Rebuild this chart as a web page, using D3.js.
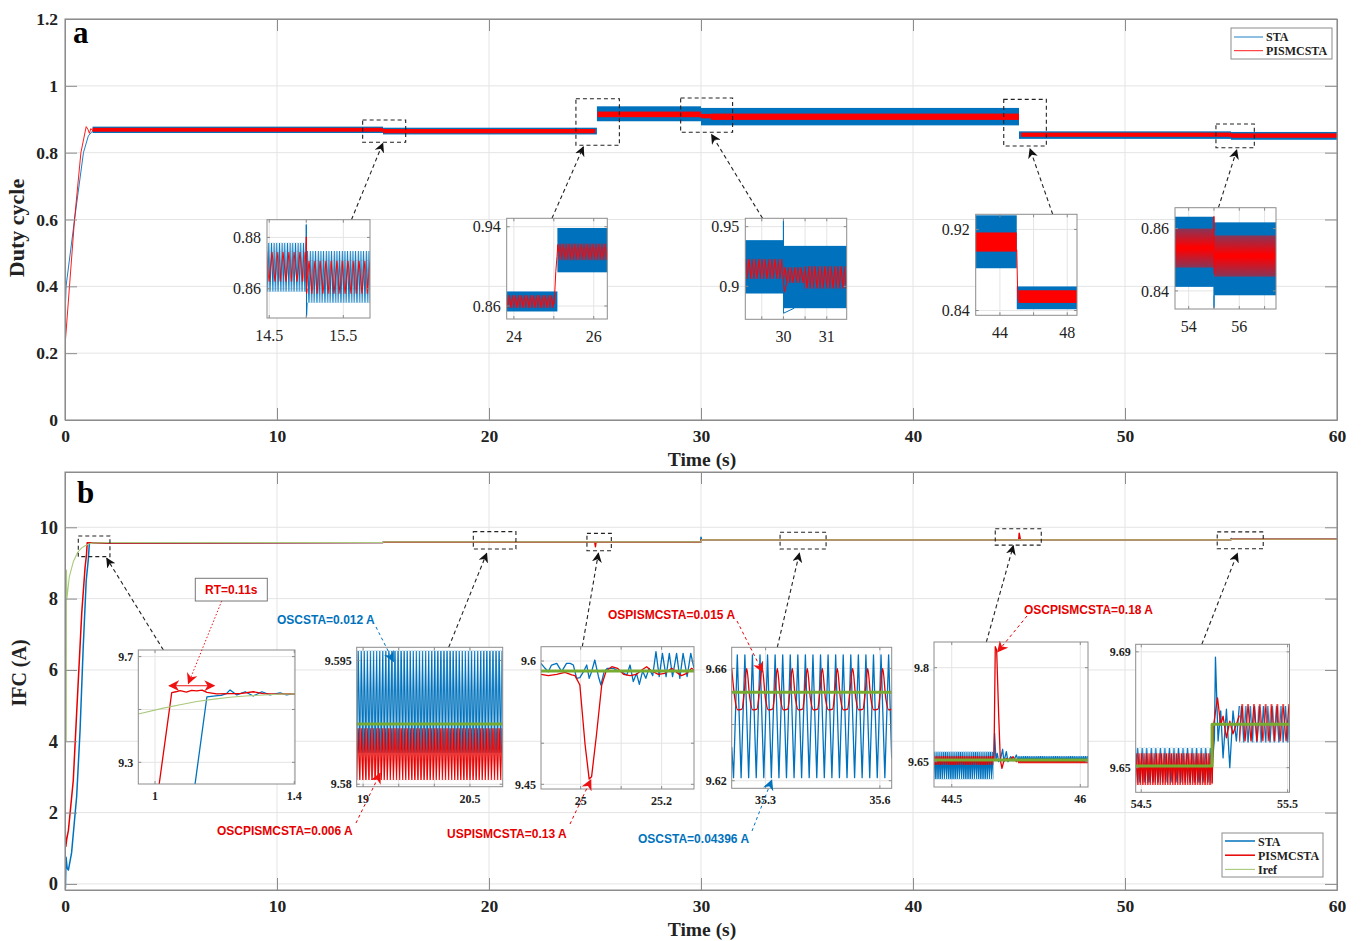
<!DOCTYPE html>
<html>
<head>
<meta charset="utf-8">
<script src="https://cdn.jsdelivr.net/npm/d3@7"></script>
<style>
  body { margin: 0; background: #fff; }
  svg { display: block; }
</style>
</head>
<body>
<div class="chart"></div>
<script>
// Duty cycle (a) and fuel cell current (b): STA vs PISMCSTA

// ---------- data ----------
var timeTicks = [0, 10, 20, 30, 40, 50, 60]
var dutyTicks = [0, 0.2, 0.4, 0.6, 0.8, 1, 1.2]
var ifcTicks = [0, 2, 4, 6, 8, 10]
var legendA = ['STA', 'PISMCSTA']
var legendB = ['STA', 'PISMCSTA', 'Iref']

// panel a, start-up [t, d]
var dutyStaRise = [[0, 0.3], [0.05, 0.4], [0.45, 0.6], [0.87, 0.8], [1.1, 0.85], [1.26, 0.862], [1.35, 0.868]]
var dutyPisRise = [[0, 0], [0.01, 0.23], [0.45, 0.6], [0.75, 0.8], [1.0, 0.878], [1.08, 0.87], [1.15, 0.858], [1.22, 0.872], [1.3, 0.866], [1.35, 0.868]]

// panel a, ripple envelopes [t0, t1, low, high, ripple period]
var dutyStaBand = [
  [1.3, 15.0, 0.8588, 0.8779, 0.036],
  [15.0, 25.09, 0.8545, 0.8747, 0.036],
  [25.09, 30.0, 0.894, 0.9387, 0.036],
  [30.0, 45.0, 0.8817, 0.9339, 0.036],
  [45.0, 55.0, 0.8413, 0.8638, 0.036],
  [55.0, 60, 0.8386, 0.862, 0.036]
]
var dutyPisBand = [
  [1.3, 15.0, 0.8627, 0.8744, 0.075],
  [15.0, 25.01, 0.858, 0.871, 0.075],
  [25.12, 30.0, 0.9062, 0.923, 0.075],
  [30.0, 30.47, 0.9028, 0.9161, 0.075],
  [30.47, 45.0, 0.8981, 0.917, 0.075],
  [45.1, 55.0, 0.8475, 0.86, 0.075],
  [55.0, 60, 0.8446, 0.8578, 0.075]
]
// panel a, transients at the load steps
var dutyStaSpikes = [
  [[14.998, 0.8588], [15.0, 0.885], [15.004, 0.8493], [15.012, 0.8545]],
  [[29.998, 0.894], [30.0, 0.955], [30.003, 0.8775], [30.06, 0.8785], [30.25, 0.8817]],
  [[54.998, 0.8414], [55.0, 0.8346], [55.006, 0.8386]]
]
var dutyPisSpikes = [
  [[14.998, 0.8627], [15.0, 0.8802], [15.004, 0.8582], [15.012, 0.86]],
  [[25.01, 0.862], [25.05, 0.895], [25.08, 0.91], [25.1, 0.922], [25.12, 0.915]],
  [[29.998, 0.906], [30.02, 0.895], [30.08, 0.903]],
  [[45.0, 0.9], [45.06, 0.852], [45.1, 0.85]],
  [[54.998, 0.8593], [55.0, 0.8639], [55.004, 0.8455]]
]

// panel b, whole run [t, A]
var ifcSta = [[0, 0], [0.02, -0.12], [0.05, 0.75], [0.1, 0.45], [0.16, 0.39], [0.31, 0.87], [0.55, 2.45], [0.71, 4.3], [0.86, 6.65], [1.0, 8.5], [1.1, 9.1], [1.149, 9.548], [1.3, 9.56], [15, 9.575], [15.01, 9.59], [29.99, 9.59], [30, 9.72], [30.03, 9.648], [44.99, 9.65], [45, 9.69], [45.02, 9.65], [54.99, 9.65], [55.01, 9.688], [55.03, 9.665], [60, 9.665]]
var ifcPis = [[0, 0], [0.01, 1.45], [0.04, 1.05], [0.08, 1.25], [0.16, 1.5], [0.39, 2.9], [0.55, 4.8], [0.79, 7.6], [0.95, 8.9], [1.012, 9.218], [1.048, 9.564], [1.3, 9.56], [15, 9.575], [15.01, 9.59], [24.99, 9.585], [25.02, 9.456], [25.05, 9.59], [29.99, 9.59], [30, 9.648], [44.99, 9.65], [45.01, 9.83], [45.07, 9.64], [45.1, 9.65], [54.99, 9.65], [55.02, 9.674], [55.05, 9.665], [60, 9.665]]
var ifcRef = [[0.06, 4.0], [0.07, 8.8], [0.09, 8.0], [0.2, 8.6], [0.4, 9.05], [0.6, 9.3], [0.8, 9.43], [0.95, 9.483], [1.12, 9.53], [1.3, 9.555], [2, 9.575], [15, 9.575], [15.01, 9.59], [30, 9.59], [30.01, 9.648], [55, 9.648], [55.01, 9.665], [60, 9.665]]

// panel b, ripple envelopes seen in the zooms [t0, t1, low, high, ripple period]
var ifcStaRipple = [
  [18.91, 20.96, 9.5838, 9.5962, 0.043],
  [44.29, 44.986, 9.6219, 9.666, 0.025],
  [45.273, 46.09, 9.650, 9.6591, 0.025],
  [54.46, 54.99, 9.6448, 9.6569, 0.031],
  [55.17, 55.52, 9.6586, 9.6713, 0.03]
]
var ifcPisRipple = [
  [18.91, 20.96, 9.5805, 9.5868, 0.043],
  [44.29, 44.986, 9.6447, 9.6591, 0.025],
  [45.273, 46.09, 9.6474, 9.6527, 0.022],
  [54.46, 54.984, 9.644, 9.655, 0.017],
  [55.17, 55.52, 9.659, 9.672, 0.04]
]
// panel b, detail traces
var ifcStaZoom1 = [[1.10, 8.9], [1.115, 9.218], [1.149, 9.548], [1.18, 9.552], [1.19, 9.553], [1.205, 9.56], [1.2155, 9.574], [1.235, 9.555], [1.259, 9.567], [1.282, 9.551], [1.307, 9.567], [1.33, 9.555], [1.359, 9.5625], [1.378, 9.555], [1.397, 9.56], [1.402, 9.559]]
var ifcPisZoom1 = [[0.99, 8.9], [1.012, 9.218], [1.048, 9.564], [1.06, 9.567], [1.072, 9.571], [1.09, 9.566], [1.105, 9.572], [1.12, 9.57], [1.135, 9.573], [1.149, 9.565], [1.177, 9.559], [1.2155, 9.56], [1.244, 9.56], [1.282, 9.567], [1.311, 9.56], [1.35, 9.558], [1.388, 9.56], [1.402, 9.558]]
var ifcRefZoom1 = [[0.952, 9.483], [1.024, 9.505], [1.072, 9.518], [1.12, 9.53], [1.17, 9.539], [1.2155, 9.546], [1.26, 9.551], [1.311, 9.555], [1.36, 9.558], [1.402, 9.559]]
var ifcRefZoom2 = [[18.91, 9.5873], [20.96, 9.5873]]
var ifcStaZoom3 = [[24.902, 9.5972], [24.912, 9.5911], [24.92, 9.587], [24.928, 9.5951], [24.941, 9.5972], [24.953, 9.587], [24.965, 9.5972], [24.974, 9.5972], [24.982, 9.5951], [24.99, 9.5789], [24.998, 9.5797], [25.007, 9.587], [25.015, 9.5951], [25.021, 9.5789], [25.027, 9.587], [25.035, 9.6012], [25.044, 9.5809], [25.05, 9.5708], [25.058, 9.587], [25.066, 9.5911], [25.081, 9.5911], [25.093, 9.5878], [25.101, 9.587], [25.114, 9.583], [25.122, 9.5951], [25.13, 9.5749], [25.138, 9.585], [25.145, 9.5716], [25.153, 9.5878], [25.161, 9.5789], [25.169, 9.5911], [25.178, 9.5822], [25.186, 9.6114], [25.194, 9.5809], [25.202, 9.6093], [25.211, 9.5809], [25.219, 9.6093], [25.227, 9.5809], [25.237, 9.6093], [25.245, 9.5789], [25.253, 9.6093], [25.263, 9.5809], [25.272, 9.6093], [25.28, 9.5911]]
var ifcPisZoom3 = [[24.902, 9.5838], [24.92, 9.5822], [24.941, 9.5838], [24.961, 9.5862], [24.978, 9.583], [24.986, 9.5822], [24.998, 9.5708], [25.011, 9.4978], [25.021, 9.4564], [25.027, 9.4593], [25.039, 9.51], [25.052, 9.5708], [25.063, 9.5878], [25.077, 9.5931], [25.091, 9.5911], [25.106, 9.5838], [25.122, 9.5822], [25.138, 9.5838], [25.151, 9.589], [25.163, 9.5931], [25.175, 9.5878], [25.192, 9.5838], [25.208, 9.585], [25.225, 9.5911], [25.237, 9.5862], [25.249, 9.5822], [25.262, 9.585], [25.274, 9.5911], [25.28, 9.589]]
var ifcRefZoom3 = [[24.902, 9.5878], [25.28, 9.5878]]
var ifcStaZoom4 = [[35.211, 9.632], [35.2158, 9.6211], [35.2257, 9.6648], [35.2357, 9.6211], [35.2456, 9.6648], [35.2555, 9.6211], [35.2654, 9.6648], [35.2754, 9.6211], [35.2853, 9.6648], [35.2952, 9.6211], [35.3051, 9.6648], [35.3151, 9.6211], [35.325, 9.6648], [35.335, 9.6211], [35.3449, 9.6648], [35.3548, 9.6211], [35.3647, 9.6648], [35.3747, 9.6211], [35.3846, 9.6648], [35.3945, 9.6211], [35.4044, 9.6648], [35.4144, 9.6211], [35.4243, 9.6648], [35.4343, 9.6211], [35.4442, 9.6648], [35.4541, 9.6211], [35.464, 9.6648], [35.474, 9.6211], [35.4839, 9.6648], [35.4938, 9.6211], [35.5037, 9.6648], [35.5137, 9.6211], [35.5236, 9.6648], [35.5336, 9.6211], [35.5435, 9.6648], [35.5534, 9.6211], [35.5633, 9.6648], [35.5733, 9.6211], [35.5832, 9.6648], [35.5931, 9.6211], [35.603, 9.6648], [35.613, 9.6211], [35.6229, 9.6648], [35.631, 9.628]]
var ifcPisZoom4 = [
  [35.211, 9.66], [35.219, 9.6495], [35.227, 9.6452], [35.238, 9.6455], [35.245, 9.653],
  [35.2504, 9.66], [35.2584, 9.6495], [35.2664, 9.6452], [35.2774, 9.6455], [35.2844, 9.653],
  [35.2913, 9.66], [35.2993, 9.6495], [35.3073, 9.6452], [35.3183, 9.6455], [35.3253, 9.653],
  [35.3307, 9.66], [35.3387, 9.6495], [35.3467, 9.6452], [35.3577, 9.6455], [35.3647, 9.653],
  [35.37, 9.66], [35.378, 9.6495], [35.386, 9.6452], [35.397, 9.6455], [35.404, 9.653],
  [35.4094, 9.66], [35.4174, 9.6495], [35.4254, 9.6452], [35.4364, 9.6455], [35.4434, 9.653],
  [35.4488, 9.66], [35.4568, 9.6495], [35.4648, 9.6452], [35.4758, 9.6455], [35.4828, 9.653],
  [35.4882, 9.66], [35.4962, 9.6495], [35.5042, 9.6452], [35.5152, 9.6455], [35.5222, 9.653],
  [35.5286, 9.66], [35.5366, 9.6495], [35.5446, 9.6452], [35.5556, 9.6455], [35.5626, 9.653],
  [35.568, 9.66], [35.576, 9.6495], [35.584, 9.6452], [35.595, 9.6455], [35.602, 9.653],
  [35.6073, 9.66], [35.6153, 9.6495], [35.6233, 9.6452], [35.631, 9.6455]]
var ifcRefZoom4 = [[35.211, 9.6515], [35.631, 9.6515]]
var ifcStaZoom5 = [[44.986, 9.6527], [44.989, 9.6527], [45.0, 9.6953], [45.016, 9.6527], [45.031, 9.6634], [45.047, 9.65], [45.071, 9.6554], [45.094, 9.6698], [45.109, 9.65], [45.137, 9.666], [45.156, 9.65], [45.188, 9.658], [45.223, 9.6516], [45.254, 9.6607], [45.273, 9.6516]]
var ifcPisZoom5 = [[44.986, 9.6527], [44.993, 9.6527], [45.008, 9.8335], [45.024, 9.8282], [45.047, 9.7272], [45.067, 9.6527], [45.086, 9.6395], [45.106, 9.65], [45.137, 9.6554], [45.176, 9.6527], [45.215, 9.658], [45.254, 9.65], [45.273, 9.6527]]
var ifcRefZoom5 = [[44.29, 9.6527], [46.09, 9.6527]]
var ifcStaZoom6 = [[54.984, 9.6506], [55.0, 9.66], [55.007, 9.6882], [55.025, 9.6592], [55.043, 9.6696], [55.059, 9.6534], [55.082, 9.6702], [55.105, 9.65], [55.127, 9.6696], [55.15, 9.6592], [55.17, 9.6713]]
var ifcPisZoom6 = [[54.984, 9.6445], [54.995, 9.665], [55.021, 9.6741], [55.043, 9.6647], [55.059, 9.6678], [55.082, 9.6603], [55.105, 9.6661], [55.127, 9.6617], [55.15, 9.665], [55.17, 9.668]]
var ifcRefZoom6 = [[54.46, 9.6506], [54.984, 9.6506], [54.984, 9.665], [55.52, 9.665]]

// zoom windows in the main axes [t0, t1, low, high]
var dutyZoomBoxes = [[14.04, 16.07, 0.831, 0.8977], [24.1, 26.15, 0.822, 0.9615], [29.04, 31.49, 0.861, 0.9635], [44.28, 46.29, 0.8199, 0.9596], [54.29, 56.1, 0.8148, 0.8857]]
var ifcZoomBoxes = [[0.627, 2.12, 9.176, 9.756], [19.26, 21.27, 9.39, 9.877], [24.62, 25.77, 9.344, 9.83], [33.73, 35.9, 9.39, 9.86], [43.88, 46.05, 9.5, 9.96], [54.35, 56.52, 9.4, 9.87]]

// inset axes
var dutyInsetX = [[14.47, 15.86], [23.82, 26.34], [29.12, 31.46], [42.56, 48.58], [53.46, 57.45]]
var dutyInsetY = [[0.8486, 0.8869], [0.8469, 0.9485], [0.8724, 0.957], [0.8353, 0.9349], [0.8342, 0.8667]]
var dutyInsetXTicks = [[14.5, 15.5], [24, 26], [30, 31], [44, 48], [54, 56]]
var dutyInsetXGrid = [[14.5, 15, 15.5], [24, 25, 26], [29.5, 30, 30.5, 31], [44, 46, 48], [54, 55, 56, 57]]
var dutyInsetYTicks = [[0.86, 0.88], [0.86, 0.94], [0.9, 0.95], [0.84, 0.92], [0.84, 0.86]]
var ifcInsetX = [[0.952, 1.402], [18.91, 20.96], [24.902, 25.28], [35.211, 35.631], [44.293, 46.09], [54.462, 55.513]]
var ifcInsetY = [[9.218, 9.725], [9.5797, 9.5966], [9.4443, 9.6174], [9.6173, 9.6675], [9.6096, 9.841], [9.6415, 9.6926]]
var ifcInsetXTicks = [[1, 1.4], [19, 20.5], [25, 25.2], [35.3, 35.6], [44.5, 46], [54.5, 55.5]]
var ifcInsetXGrid = [[1, 1.4], [19, 19.5, 20, 20.5], [25, 25.1, 25.2], [35.3, 35.6], [44.5, 46], [54.5, 55.5]]
var ifcInsetYTicks = [[9.3, 9.7], [9.58, 9.595], [9.45, 9.6], [9.62, 9.66], [9.65, 9.8], [9.65, 9.69]]
var ifcInsetYGrid = [[9.3, 9.5, 9.7], [9.58, 9.595], [9.45, 9.5, 9.6], [9.62, 9.64, 9.66], [9.65, 9.8], [9.65, 9.69]]

// ---------- layout ----------
var dutyInsetBox = [[267, 219.7, 103, 98.3], [506.7, 218.3, 100.6, 100.7], [745.3, 218.3, 101.4, 101], [975.7, 214.3, 101.3, 101], [1175, 207.7, 101, 101.3]]
var ifcInsetBox = [[138.3, 650, 156.7, 134], [356.7, 647.3, 146, 139.4], [541, 646.7, 153, 142.3], [731.7, 647.3, 160, 141], [934, 642, 154, 145], [1135.7, 644.3, 153.8, 148]]
var dutyArrowFrom = [0.82, 0.45, 0.17, 0.76, 0.43]
var dutyArrowTo = [[14.99, 0.828], [24.45, 0.817], [30.5, 0.854], [45.52, 0.811], [55.27, 0.808]]
var ifcArrowFrom = [0.16, 0.63, 0.27, 0.285, 0.34, 0.43]
var ifcArrowTo = [[1.97, 9.13], [19.89, 9.27], [25.16, 9.27], [34.64, 9.27], [44.73, 9.48], [55.3, 9.27]]

var SERIF = '"Liberation Serif", "Times New Roman", serif'
var SANS = '"Liberation Sans", Arial, sans-serif'
var STA_C = '#0072BD', PIS_A = '#FF0000', PIS_B = '#E60000', REF_C = '#A9C97C', REF_IN = '#77AC30'
var FRAME = '#8c8c8c', GRID = '#e4e4e4'
var L = 65, R = 1337

var svg = d3.select('.chart').append('svg').attr('width', 1363).attr('height', 941)
  .style('font-family', SERIF)
var defs = svg.append('defs')

var xMain = d3.scaleLinear().domain([0, 60]).range([L, R])
var yDuty = d3.scaleLinear().domain([0, 1.2]).range([420, 19])
var yIfc = d3.scaleLinear().domain([-0.17, 11.55]).range([890, 472])

function marker(id, color, size) {
  defs.append('marker').attr('id', id).attr('viewBox', '0 0 10 10')
    .attr('refX', 9).attr('refY', 5).attr('markerWidth', size).attr('markerHeight', size)
    .attr('markerUnits', 'userSpaceOnUse').attr('orient', 'auto-start-reverse')
    .append('path').attr('d', 'M0,0 L10,5 L0,10 L3,5 Z').attr('fill', color)
}
marker('arK', '#111', 10)
marker('arR', '#ee1111', 11)
marker('arB', STA_C, 11)

var patN = 0
function bandFill(color, p, h, x0, y0, sw) {
  if (p < 1.8) return color
  var id = 'zz' + (patN++)
  var pat = defs.append('pattern').attr('id', id).attr('patternUnits', 'userSpaceOnUse')
    .attr('x', x0).attr('y', y0).attr('width', p).attr('height', h)
  pat.append('path').attr('d', 'M0,' + h + 'L' + (p / 2) + ',0L' + p + ',' + h)
    .attr('fill', 'none').attr('stroke', color).attr('stroke-width', sw)
  return 'url(#' + id + ')'
}

function drawBands(g, xs, ys, bands, color, sw) {
  bands.forEach(function (b) {
    var x0 = xs(b[0]), x1 = xs(b[1]), y0 = ys(b[3]), y1 = ys(b[2])
    var p = xs(b[0] + b[4]) - x0
    g.append('rect').attr('x', x0).attr('y', y0).attr('width', x1 - x0).attr('height', y1 - y0)
      .attr('fill', bandFill(color, p, y1 - y0, x0, y0, sw))
  })
}

function drawLine(g, xs, ys, pts, color, w, curve) {
  var line = d3.line().x(function (d) { return xs(d[0]) }).y(function (d) { return ys(d[1]) })
  if (curve) line.curve(curve)
  g.append('path').datum(pts).attr('d', line).attr('fill', 'none')
    .attr('stroke', color).attr('stroke-width', w).attr('stroke-linejoin', 'round')
}

// main axes frame: grid first, ticks and labels later
function mainGrid(y, yTicks, top, bottom) {
  var g = svg.append('g')
  g.selectAll(null).data(timeTicks).join('line')
    .attr('x1', function (d) { return xMain(d) }).attr('x2', function (d) { return xMain(d) })
    .attr('y1', top).attr('y2', bottom).attr('stroke', GRID)
  g.selectAll(null).data(yTicks).join('line')
    .attr('x1', L).attr('x2', R)
    .attr('y1', function (d) { return y(d) }).attr('y2', function (d) { return y(d) }).attr('stroke', GRID)
}

var plain = function (d) { return String(d) }

function mainAxes(y, yTicks, top, bottom, yFont) {
  var g = svg.append('g')
  var ax = [
    [d3.axisBottom(xMain).tickValues(timeTicks).tickFormat(plain).tickPadding(10), 0, bottom, true, 17.5],
    [d3.axisTop(xMain).tickValues(timeTicks).tickFormat(''), 0, top, false],
    [d3.axisLeft(y).tickValues(yTicks).tickFormat(plain).tickPadding(7), L, 0, true, yFont],
    [d3.axisRight(y).tickValues(yTicks).tickFormat(''), R, 0, false]
  ]
  ax.forEach(function (a) {
    var s = g.append('g').attr('transform', 'translate(' + a[1] + ',' + a[2] + ')')
      .call(a[0].tickSize(-12).tickSizeOuter(0))
    s.select('.domain').attr('stroke', FRAME)
    s.selectAll('.tick line').attr('stroke', FRAME)
    if (a[3]) s.selectAll('.tick text').attr('fill', '#222').style('font-family', SERIF)
      .style('font-weight', 'bold').style('font-size', a[4] + 'px')
  })
  g.append('rect').attr('x', L).attr('y', top).attr('width', R - L).attr('height', bottom - top)
    .attr('fill', 'none').attr('stroke', FRAME)
}

function zoomBoxes(y, boxes) {
  svg.append('g').selectAll(null).data(boxes).join('rect')
    .attr('x', function (d) { return xMain(d[0]) }).attr('y', function (d) { return y(d[3]) })
    .attr('width', function (d) { return xMain(d[1]) - xMain(d[0]) })
    .attr('height', function (d) { return y(d[2]) - y(d[3]) })
    .attr('fill', 'none').attr('stroke', '#222').attr('stroke-width', 1.1).attr('stroke-dasharray', '4,3')
}

function arrow(x1, y1, x2, y2, color, dash, mk, w, both) {
  var l = svg.append('line').attr('x1', x1).attr('y1', y1).attr('x2', x2).attr('y2', y2)
    .attr('stroke', color).attr('stroke-width', w).attr('stroke-dasharray', dash)
    .attr('marker-end', 'url(#' + mk + ')')
  if (both) l.attr('marker-start', 'url(#' + mk + ')')
}

var clipN = 0
function drawInset(box, xd, yd, xg, yg, xt, yt, fnt, draw) {
  var xs = d3.scaleLinear().domain(xd).range([box[0], box[0] + box[2]])
  var ys = d3.scaleLinear().domain(yd).range([box[1] + box[3], box[1]])
  var g = svg.append('g')
  g.append('rect').attr('x', box[0]).attr('y', box[1]).attr('width', box[2]).attr('height', box[3]).attr('fill', '#fff')
  g.selectAll(null).data(xg).join('line')
    .attr('x1', function (d) { return xs(d) }).attr('x2', function (d) { return xs(d) })
    .attr('y1', box[1]).attr('y2', box[1] + box[3]).attr('stroke', GRID)
  g.selectAll(null).data(yg).join('line')
    .attr('x1', box[0]).attr('x2', box[0] + box[2])
    .attr('y1', function (d) { return ys(d) }).attr('y2', function (d) { return ys(d) }).attr('stroke', GRID)
  var cid = 'inclip' + (clipN++)
  defs.append('clipPath').attr('id', cid).append('rect')
    .attr('x', box[0]).attr('y', box[1]).attr('width', box[2]).attr('height', box[3])
  var body = g.append('g').attr('clip-path', 'url(#' + cid + ')')
  draw(body, xs, ys)
  var tk = g.append('g').attr('stroke', FRAME)
  xg.forEach(function (v) {
    tk.append('line').attr('x1', xs(v)).attr('x2', xs(v)).attr('y1', box[1] + box[3]).attr('y2', box[1] + box[3] - 3)
    tk.append('line').attr('x1', xs(v)).attr('x2', xs(v)).attr('y1', box[1]).attr('y2', box[1] + 3)
  })
  yg.forEach(function (v) {
    tk.append('line').attr('x1', box[0]).attr('x2', box[0] + 3).attr('y1', ys(v)).attr('y2', ys(v))
    tk.append('line').attr('x1', box[0] + box[2]).attr('x2', box[0] + box[2] - 3).attr('y1', ys(v)).attr('y2', ys(v))
  })
  g.append('rect').attr('x', box[0]).attr('y', box[1]).attr('width', box[2]).attr('height', box[3])
    .attr('fill', 'none').attr('stroke', FRAME)
  g.selectAll(null).data(xt).join('text')
    .attr('x', function (d) { return xs(d) }).attr('y', box[1] + box[3] + fnt.dx)
    .attr('text-anchor', 'middle').attr('fill', '#222')
    .style('font-size', fnt.size + 'px').style('font-weight', fnt.weight).text(plain)
  g.selectAll(null).data(yt).join('text')
    .attr('x', box[0] - fnt.gap).attr('y', function (d) { return ys(d) }).attr('dy', '0.35em')
    .attr('text-anchor', 'end').attr('fill', '#222')
    .style('font-size', fnt.size + 'px').style('font-weight', fnt.weight).text(plain)
  return { xs: xs, ys: ys }
}

// ================= panel a =================
mainGrid(yDuty, dutyTicks, 19, 420)
defs.append('clipPath').attr('id', 'clipA').append('rect').attr('x', L).attr('y', 19).attr('width', R - L).attr('height', 401)
var ga = svg.append('g').attr('clip-path', 'url(#clipA)')
drawLine(ga, xMain, yDuty, dutyStaRise, STA_C, 0.9)
drawBands(ga, xMain, yDuty, dutyStaBand, STA_C, 1)
drawLine(ga, xMain, yDuty, dutyPisRise, PIS_A, 0.9)
drawBands(ga, xMain, yDuty, dutyPisBand, PIS_A, 1)
mainAxes(yDuty, dutyTicks, 19, 420, 17.5)
zoomBoxes(yDuty, dutyZoomBoxes)

svg.append('text').attr('x', 73).attr('y', 43).style('font-size', '31px').style('font-weight', 'bold').text('a')
svg.append('text').attr('x', 702).attr('y', 466).attr('text-anchor', 'middle')
  .style('font-size', '19.5px').style('font-weight', 'bold').attr('fill', '#222').text('Time (s)')
svg.append('text').attr('transform', 'translate(24,228) rotate(-90)').attr('text-anchor', 'middle')
  .style('font-size', '22px').style('font-weight', 'bold').attr('fill', '#222').text('Duty cycle')

dutyInsetBox.forEach(function (box, i) {
  arrow(box[0] + box[2] * dutyArrowFrom[i], box[1], xMain(dutyArrowTo[i][0]), yDuty(dutyArrowTo[i][1]), '#222', '4,3', 'arK', 1.1)
  drawInset(box, dutyInsetX[i], dutyInsetY[i], dutyInsetXGrid[i], dutyInsetYTicks[i],
    dutyInsetXTicks[i], dutyInsetYTicks[i], { size: 16, weight: 'normal', dx: 23, gap: 6 },
    function (g, xs, ys) {
      drawBands(g, xs, ys, dutyStaBand, STA_C, 1)
      dutyStaSpikes.forEach(function (s) { drawLine(g, xs, ys, s, STA_C, 1) })
      drawBands(g, xs, ys, dutyPisBand, PIS_A, 1)
      dutyPisSpikes.forEach(function (s) { drawLine(g, xs, ys, s, PIS_A, 1) })
    })
})

// legend a
var lgA = svg.append('g')
lgA.append('rect').attr('x', 1231).attr('y', 28).attr('width', 101).attr('height', 31).attr('fill', '#fff').attr('stroke', FRAME)
legendA.forEach(function (name, i) {
  var yy = 37 + i * 13.7
  lgA.append('line').attr('x1', 1234).attr('x2', 1263).attr('y1', yy).attr('y2', yy)
    .attr('stroke', i ? PIS_A : STA_C).attr('stroke-width', 0.9)
  lgA.append('text').attr('x', 1266).attr('y', yy + 4.3).style('font-size', '12px').style('font-weight', 'bold').attr('fill', '#222').text(name)
})

// ================= panel b =================
mainGrid(yIfc, ifcTicks, 472, 890)
defs.append('clipPath').attr('id', 'clipB').append('rect').attr('x', L).attr('y', 472).attr('width', R - L).attr('height', 418)
var gb = svg.append('g').attr('clip-path', 'url(#clipB)')
drawLine(gb, xMain, yIfc, ifcSta, STA_C, 1.5)
drawLine(gb, xMain, yIfc, ifcPis, PIS_B, 1.5)
drawLine(gb, xMain, yIfc, ifcRef, REF_C, 1.1)
mainAxes(yIfc, ifcTicks, 472, 890, 18.5)
zoomBoxes(yIfc, ifcZoomBoxes)

svg.append('text').attr('x', 77).attr('y', 503).style('font-size', '31px').style('font-weight', 'bold').text('b')
svg.append('text').attr('x', 702).attr('y', 936).attr('text-anchor', 'middle')
  .style('font-size', '19.5px').style('font-weight', 'bold').attr('fill', '#222').text('Time (s)')
svg.append('text').attr('transform', 'translate(26,673) rotate(-90)').attr('text-anchor', 'middle')
  .style('font-size', '20px').style('font-weight', 'bold').attr('fill', '#222').text('IFC (A)')

var ifcZoomTraces = [
  [ifcStaZoom1, ifcPisZoom1, ifcRefZoom1],
  [null, null, ifcRefZoom2],
  [ifcStaZoom3, ifcPisZoom3, ifcRefZoom3],
  [ifcStaZoom4, ifcPisZoom4, ifcRefZoom4],
  [ifcStaZoom5, ifcPisZoom5, ifcRefZoom5],
  [ifcStaZoom6, ifcPisZoom6, ifcRefZoom6]
]
var ins = []
ifcInsetBox.forEach(function (box, i) {
  arrow(box[0] + box[2] * ifcArrowFrom[i], box[1], xMain(ifcArrowTo[i][0]), yIfc(ifcArrowTo[i][1]), '#222', '4,3', 'arK', 1.1)
  ins.push(drawInset(box, ifcInsetX[i], ifcInsetY[i], ifcInsetXGrid[i], ifcInsetYGrid[i],
    ifcInsetXTicks[i], ifcInsetYTicks[i], { size: 12, weight: 'bold', dx: 16, gap: 5 },
    function (g, xs, ys) {
      var tr = ifcZoomTraces[i]
      var curve = i === 3 ? d3.curveMonotoneX : null
      drawBands(g, xs, ys, ifcStaRipple, STA_C, 1.2)
      if (tr[0]) drawLine(g, xs, ys, tr[0], STA_C, 1.3)
      drawBands(g, xs, ys, ifcPisRipple, PIS_B, 1.2)
      if (tr[1]) drawLine(g, xs, ys, tr[1], PIS_B, 1.3, curve)
      drawLine(g, xs, ys, tr[2], i === 0 ? REF_C : REF_IN, i === 0 ? 1.1 : 3)
    }))
})

// annotations of panel b
var notes = [
  { text: 'OSCSTA=0.012 A', color: STA_C, mk: 'arB', x: 277, y: 624, from: [376, 627], inset: 1, to: [19.425, 9.5949] },
  { text: 'OSCPISMCSTA=0.006 A', color: PIS_B, mk: 'arR', x: 217, y: 835, from: [356, 823], inset: 1, to: [19.238, 9.5813] },
  { text: 'USPISMCSTA=0.13 A', color: PIS_B, mk: 'arR', x: 447, y: 838, from: [570, 824], inset: 2, to: [25.025, 9.4552] },
  { text: 'OSPISMCSTA=0.015 A', color: PIS_B, mk: 'arR', x: 608, y: 619, from: [737, 621], inset: 3, to: [35.292, 9.6588] },
  { text: 'OSCSTA=0.04396 A', color: STA_C, mk: 'arB', x: 638, y: 843, from: [752, 831], inset: 3, to: [35.316, 9.6202] },
  { text: 'OSCPISMCSTA=0.18 A', color: PIS_B, mk: 'arR', x: 1024, y: 614, from: [1027, 616], inset: 4, to: [45.037, 9.8255] }
]
notes.forEach(function (n) {
  var s = ins[n.inset]
  arrow(n.from[0], n.from[1], s.xs(n.to[0]), s.ys(n.to[1]), n.color, '3,3', n.mk, 1)
  svg.append('text').attr('x', n.x).attr('y', n.y).style('font-family', SANS).style('font-size', '12px')
    .style('font-weight', 'bold').attr('fill', n.color).text(n.text)
})
// rise time marker
var s0 = ins[0]
arrow(s0.xs(1.041), s0.ys(9.59), s0.xs(1.17), s0.ys(9.59), '#ee1111', null, 'arR', 1.1, true)
arrow(221.7, 601, s0.xs(1.096), s0.ys(9.599), '#ee1111', '1.5,2', 'arR', 1)
svg.append('rect').attr('x', 195.3).attr('y', 578.3).attr('width', 72).attr('height', 22.7)
  .attr('fill', '#fff').attr('stroke', '#777')
svg.append('text').attr('x', 231.3).attr('y', 594).attr('text-anchor', 'middle').style('font-family', SANS)
  .style('font-size', '12px').style('font-weight', 'bold').attr('fill', PIS_B).text('RT=0.11s')

// legend b
var lgB = svg.append('g')
lgB.append('rect').attr('x', 1222).attr('y', 833).attr('width', 101).attr('height', 44).attr('fill', '#fff').attr('stroke', FRAME)
legendB.forEach(function (name, i) {
  var yy = 841 + i * 14.2
  lgB.append('line').attr('x1', 1225).attr('x2', 1255).attr('y1', yy).attr('y2', yy)
    .attr('stroke', [STA_C, PIS_B, REF_C][i]).attr('stroke-width', i < 2 ? 1.5 : 1.1)
  lgB.append('text').attr('x', 1258).attr('y', yy + 4.5).style('font-size', '12px').style('font-weight', 'bold').attr('fill', '#222').text(name)
})
</script>
</body>
</html>
